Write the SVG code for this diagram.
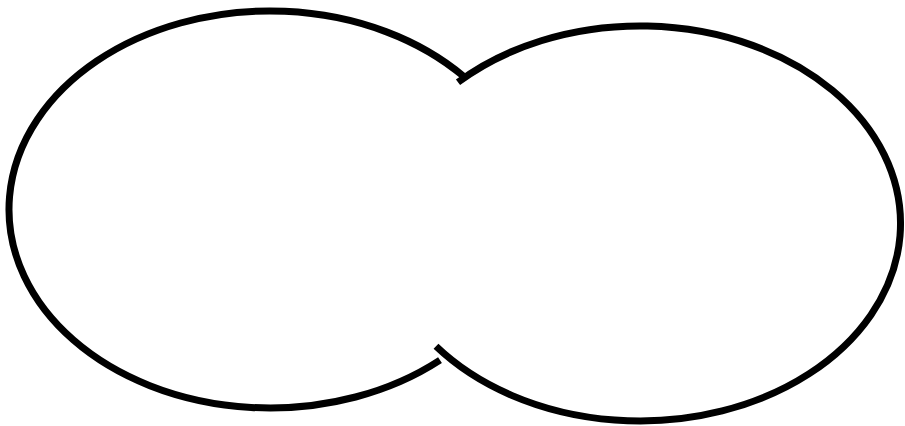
<svg xmlns="http://www.w3.org/2000/svg" width="905" height="426" viewBox="0 0 905 426">
<style>.o{fill:none;stroke:#000;stroke-width:7;stroke-linecap:butt}</style>
<rect width="905" height="426" fill="#fff"/>
<g id="shape">
<path class="o" d="M464,76.7 A261,198.5 0 1 0 440,360.1"/>
<path class="o" d="M458,82.2 A260.5,197.5 0 1 1 436,346.3"/>
</g>
</svg>
